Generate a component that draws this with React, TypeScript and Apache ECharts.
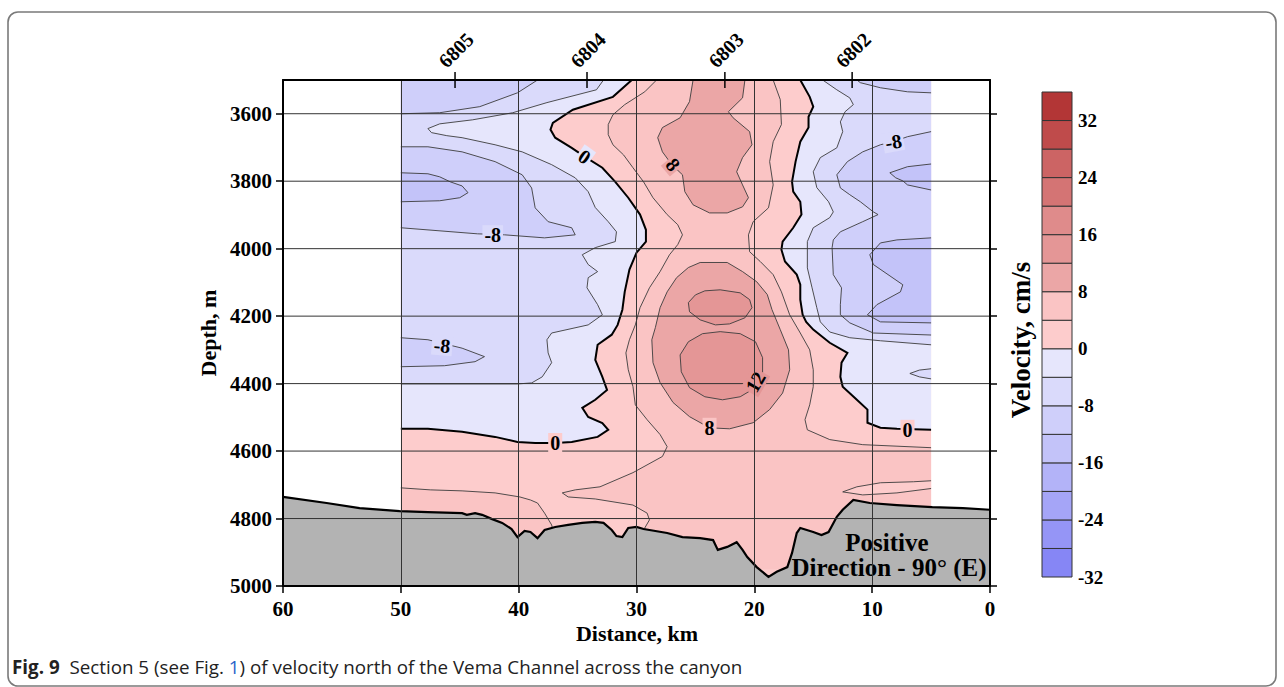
import React, { useEffect, useRef } from "react";
import * as echarts from "echarts";

const SERIF = '"Liberation Serif", "Times New Roman", serif';
const SANS = '"Open Sans", "Noto Sans", sans-serif';

// ---- axes / ticks ----
const depthTicks = [3600, 3800, 4000, 4200, 4400, 4600, 4800, 5000];
const stations = ["6805", "6804", "6803", "6802"];
const stationKm = [45.4, 34.2, 22.5, 11.7];

// ---- colour bands (lower bound of each 4 cm/s band) ----
const bandLevels = [-32, -28, -24, -20, -16, -12, -8, -4, 0, 4, 8, 12, 16, 20, 24, 28, 32];
const bandColors = [
  "#8686f5", "#9595f6", "#a5a5f7", "#b3b3f8", "#c3c3f9", "#cfcffa", "#dadafb", "#e6e6fc",
  "#fdcccc", "#fac4c4", "#eba6a6", "#e49696", "#df8b8b", "#d47474", "#cc6464", "#bf4b4b", "#b33636",
];

// ---- contour lines, [distance km, depth m] ----
const dataArea = [[50, 3500], [5, 3500], [5, 5000], [50, 5000]];

const zeroLeft = [[30.4,3500],[32.0,3550],[35.4,3588],[37.1,3627],[37.3,3647],[36.9,3671],[35.5,3701],[34.4,3727],[32.9,3760],[31.8,3802],[30.7,3849],[29.7,3899],[29.2,3944],[29.2,3979],[30.0,4012],[30.6,4062],[31.0,4128],[31.2,4181],[31.6,4226],[32.1,4255],[33.3,4285],[33.5,4330],[32.9,4380],[32.5,4419],[33.5,4448],[34.6,4472],[34.1,4499],[32.9,4517],[32.4,4537],[33.3,4558],[35.5,4573],[36.9,4576],[38.6,4576],[40.1,4573],[42.0,4558],[44.8,4543],[47.7,4534],[50,4534]];
const zeroRight = [[16.1,3500],[15.3,3550],[15.0,3579],[15.4,3609],[15.4,3641],[16.1,3683],[16.5,3742],[16.8,3802],[16.7,3831],[16.1,3861],[16.0,3899],[16.7,3938],[17.6,3979],[17.7,4003],[17.4,4038],[16.4,4077],[16.1,4107],[16.1,4151],[15.9,4196],[15.6,4217],[15.0,4240],[13.6,4279],[12.1,4309],[12.6,4338],[12.7,4380],[12.5,4409],[11.3,4448],[10.4,4477],[10.4,4516],[9.3,4531],[7.9,4534],[5,4537]];

const minus4Left = [[32.8,3500],[33.4,3529],[37.6,3567],[40.5,3597],[43.9,3618],[46.7,3630],[47.7,3644],[47.4,3656],[46.1,3665],[44.8,3671],[42.0,3692],[39.7,3713],[37.2,3751],[35.2,3790],[34.1,3831],[33.5,3878],[32.4,3920],[31.7,3950],[31.8,3979],[33.5,3997],[34.6,4018],[34.1,4047],[33.3,4068],[34.1,4086],[34.2,4116],[33.3,4166],[32.9,4196],[34.1,4226],[37.2,4250],[37.6,4270],[37.5,4309],[37.2,4338],[38.0,4380],[38.9,4398],[40.1,4401],[50,4401]];
const minus4Right = [[14.2,3500],[13.0,3529],[11.9,3553],[11.6,3573],[12.3,3594],[12.7,3624],[12.5,3653],[13.0,3701],[14.4,3730],[15.0,3772],[14.7,3819],[13.7,3861],[13.3,3891],[13.6,3908],[15.0,3938],[15.5,3979],[15.5,4057],[15.1,4116],[14.7,4175],[14.4,4217],[13.6,4247],[11.9,4264],[9.3,4273],[5,4285]];
const minus4Lens = [[5,4356],[6.0,4360],[6.8,4370],[6.0,4380],[5,4386]];

const minus8TopLeft = [[38.4,3500],[40.1,3538],[43.3,3579],[46.7,3597],[50,3600]];
const minus8LeftMid = [[50,3698],[47.7,3698],[44.8,3713],[42.0,3742],[39.7,3781],[38.9,3820],[38.6,3879],[37.5,3920],[35.5,3938],[35.2,3959],[37.8,3968],[41.2,3959],[43.5,3956],[50,3938]];
const minus8LeftLow = [[50,4264],[47.7,4270],[44.8,4295],[42.9,4320],[43.7,4335],[46.3,4347],[50,4350]];
const minus8TopRight = [[11.3,3500],[11.0,3508],[9.3,3523],[7.0,3535],[5,3538]];
const minus8Right = [[5,3653],[7.0,3668],[8.2,3683],[9.3,3692],[10.8,3713],[12.1,3742],[13.0,3781],[12.7,3820],[11.9,3840],[11.0,3861],[9.9,3891],[9.5,3899],[10.8,3920],[12.7,3950],[13.3,3974],[13.4,3997],[13.3,4077],[12.6,4116],[12.7,4166],[12.7,4196],[11.9,4220],[9.9,4250],[5,4256]];

const minus12Left = [[50,3775],[47.7,3778],[46.7,3787],[45.8,3802],[44.8,3814],[44.3,3834],[45.0,3849],[46.7,3858],[50,3861]];
const minus12RightA = [[5,3749],[7.0,3757],[8.5,3775],[8.0,3790],[7.4,3799],[7.0,3811],[5,3826]];
const minus12RightB = [[5,3968],[7.9,3974],[9.3,3983],[10.2,4018],[9.9,4047],[7.4,4107],[7.6,4128],[9.6,4166],[10.4,4196],[9.3,4217],[5,4220]];

const plus4Left = [[28.3,3500],[29.3,3535],[31.0,3573],[32.0,3603],[32.4,3632],[32.4,3662],[32.0,3692],[31.1,3722],[30.3,3760],[29.4,3802],[28.6,3849],[27.4,3899],[26.5,3929],[26.1,3959],[26.5,3988],[27.2,4018],[28.0,4068],[28.9,4116],[29.7,4175],[30.1,4226],[30.6,4270],[30.9,4309],[30.7,4359],[30.3,4409],[30.1,4463],[29.1,4507],[28.0,4551],[27.4,4587],[27.8,4616],[30.3,4664],[33.1,4706],[35.2,4715],[36.3,4724],[35.8,4736],[33.5,4742],[30.3,4760],[29.1,4784],[28.9,4804],[29.3,4828],[29.5,4950]];
const plus4Right = [[18.4,3500],[17.8,3558],[17.7,3632],[18.4,3683],[18.7,3742],[18.4,3811],[18.8,3879],[20.1,3920],[20.5,3959],[20.4,4009],[19.5,4038],[18.4,4077],[17.7,4128],[17.0,4196],[16.1,4250],[15.3,4300],[15.0,4359],[15.0,4409],[15.3,4463],[15.7,4507],[15.5,4537],[13.6,4566],[10.8,4581],[5,4590]];
const plus4BottomLeft = [[50,4709],[47.5,4715],[44.8,4718],[42.0,4724],[39.9,4736],[39.0,4745],[38.4,4754],[37.8,4784],[37.2,4819],[36.8,4880]];
const plus4LensRight = [[5,4688],[6.5,4691],[9.3,4694],[11.3,4706],[12.5,4721],[10.8,4730],[7.9,4724],[5,4711]];

const plus8Core = [[25.2,3500],[25.5,3564],[26.3,3612],[27.8,3641],[28.2,3671],[27.8,3713],[27.0,3751],[26.1,3781],[25.9,3831],[25.2,3870],[23.8,3894],[22.3,3894],[21.0,3876],[20.5,3849],[21.0,3811],[21.5,3772],[21.0,3730],[20.2,3692],[20.4,3653],[21.8,3612],[22.2,3594],[21.0,3553],[20.8,3500]];
const plus8Blob = [[24.6,4041],[22.3,4041],[21.0,4068],[19.8,4098],[18.9,4136],[18.5,4181],[17.8,4240],[17.1,4300],[17.0,4359],[17.6,4428],[18.7,4477],[20.1,4516],[22.1,4534],[23.8,4531],[25.5,4498],[26.9,4456],[28.0,4397],[28.6,4338],[28.7,4270],[28.4,4234],[28.0,4175],[27.4,4128],[26.6,4086],[25.6,4056]];
const plus12Upper = [[24.2,4125],[22.9,4122],[21.2,4131],[20.4,4151],[20.2,4175],[20.8,4205],[22.1,4223],[23.3,4226],[24.6,4211],[25.5,4187],[25.6,4160],[25.0,4137]];
const plus12Lower = [[22.9,4246],[21.2,4252],[19.9,4276],[19.3,4323],[19.3,4374],[19.9,4412],[21.2,4439],[22.7,4448],[24.2,4439],[25.5,4412],[26.2,4365],[26.3,4315],[25.6,4276],[24.4,4252]];

const seabed = [[60,4736],[56.3,4754],[53.5,4769],[50.1,4778],[47.7,4781],[44.8,4784],[44.4,4789],[43.7,4784],[43.1,4789],[42.3,4801],[41.4,4813],[40.6,4831],[40.1,4855],[39.5,4837],[39.0,4840],[38.4,4858],[37.8,4834],[36.9,4825],[35.8,4819],[34.6,4813],[33.5,4810],[32.8,4813],[32.1,4834],[31.7,4852],[31.2,4855],[30.7,4828],[30.0,4825],[29.4,4831],[28.9,4834],[27.4,4843],[26.1,4855],[24.6,4858],[23.5,4864],[23.1,4893],[22.3,4884],[21.5,4870],[21.0,4893],[20.6,4914],[19.8,4944],[18.8,4973],[18.1,4958],[17.2,4944],[16.8,4902],[16.4,4843],[16.1,4828],[15.0,4840],[14.3,4849],[13.7,4840],[13.0,4795],[12.5,4774],[11.6,4745],[10.2,4754],[7.9,4760],[4.9,4766],[2.3,4769],[0,4774]];

// contour labels
const contourLabelPos = [[34.4,3727],[26.9,3751],[42.2,3960],[46.5,4287],[36.9,4576],[19.9,4395],[23.8,4531],[8.2,3683],[7.0,4537]];
const contourLabelText = ["0", "8", "-8", "-8", "0", "12", "8", "-8", "0"];

export default function App() {
  const ref = useRef<HTMLDivElement>(null);

  useEffect(() => {
    const chart = echarts.init(ref.current!, null, { renderer: "svg" });
    const colorOf = (lvl: number) => bandColors[bandLevels.indexOf(lvl)];
    const C = (pts: number[][]) => ({ pts, line: true });
    const E = (pts: number[][]) => ({ pts, line: false });
    const ring = (pts: number[][]) => C([...pts, pts[0]]);
    const rev = (pts: number[][]) => pts.slice().reverse();

    const regions: any[] = [
      { fill: colorOf(0), parts: [E(dataArea)] },
      { fill: colorOf(4), parts: [C(plus4Left), E([[5, 4950]]), C(rev(plus4Right))] },
      { fill: colorOf(4), parts: [C(plus4BottomLeft), E([[36.8, 4950], [50, 4950]])] },
      { fill: colorOf(0), parts: [C(plus4LensRight)] },
      { fill: colorOf(8), parts: [C(plus8Core)] },
      { fill: colorOf(8), parts: [ring(plus8Blob)] },
      { fill: colorOf(12), parts: [ring(plus12Upper)] },
      { fill: colorOf(12), parts: [ring(plus12Lower)] },
      { fill: colorOf(-4), thick: true, parts: [C(zeroLeft), E([[50, 3500]])] },
      { fill: colorOf(-4), thick: true, parts: [C(zeroRight), E([[5, 3500]])] },
      { fill: colorOf(-8), parts: [C(minus4Left), E([[50, 3500]])] },
      { fill: colorOf(-8), parts: [C(minus4Right), E([[5, 3500]])] },
      { fill: colorOf(-8), parts: [C(minus4Lens)] },
      { fill: colorOf(-12), parts: [C(minus8TopLeft), E([[50, 3500]])] },
      { fill: colorOf(-12), parts: [C(minus8LeftMid)] },
      { fill: colorOf(-12), parts: [C(minus8LeftLow)] },
      { fill: colorOf(-12), parts: [C(minus8TopRight), E([[5, 3500]])] },
      { fill: colorOf(-12), parts: [C(minus8Right)] },
      { fill: colorOf(-16), parts: [C(minus12Left)] },
      { fill: colorOf(-16), parts: [C(minus12RightA)] },
      { fill: colorOf(-16), parts: [C(minus12RightB)] },
      { fill: "#b3b3b3", ground: true, parts: [C(seabed), E([[0, 5000], [60, 5000]])] },
    ];

    const labelAngle = [-35, -50, 0, -5, 0, 60, 0, 10, 0];
    const labelBg = [colorOf(-4), colorOf(8), colorOf(-8), colorOf(-8), colorOf(0), colorOf(12), colorOf(4), colorOf(-8), colorOf(0)];

    const axisFont = { fontFamily: SERIF, fontWeight: "bold" as const, fontSize: 21, color: "#000" };
    const txt = (size: number, family = SERIF, weight = "bold") => ({
      fontSize: size, fontFamily: family, fontWeight: weight, font: `${weight} ${size}px ${family}`,
    });

    const baseGraphic: any[] = [
      {
        type: "rect", z: 0, silent: true,
        shape: { x: 8, y: 12, width: 1268, height: 674, r: 10 },
        style: { fill: "none", stroke: "#7a7a7a", lineWidth: 1.6 },
      },
      {
        type: "text", x: 208, y: 333, rotation: Math.PI / 2, z: 20,
        style: { text: "Depth, m", ...txt(22), fill: "#000", align: "center", verticalAlign: "middle" },
      },
      {
        type: "text", x: 637, y: 633, z: 20,
        style: { text: "Distance, km", ...txt(22), fill: "#000", align: "center", verticalAlign: "middle" },
      },
      {
        type: "text", x: 1021, y: 340, rotation: Math.PI / 2, z: 20,
        style: { text: "Velocity, cm/s", ...txt(27), fill: "#000", align: "center", verticalAlign: "middle" },
      },
      {
        type: "text", x: 887, y: 542, z: 5,
        style: { text: "Positive", ...txt(25), fill: "#000", align: "center", verticalAlign: "middle" },
      },
      {
        type: "text", x: 889, y: 567, z: 5,
        style: { text: "Direction - 90° (E)", ...txt(25), fill: "#000", align: "center", verticalAlign: "middle" },
      },
      {
        type: "text", x: 12, y: 667, z: 20,
        style: {
          text: "{b|Fig. 9}  {n|Section 5 (see Fig. }{l|1}{n|) of velocity north of the Vema Channel across the canyon}",
          ...txt(18.8, SANS, "normal"), fill: "#222", align: "left", verticalAlign: "middle",
          rich: {
            b: { ...txt(18.8, SANS, "bold"), fill: "#222" },
            n: { ...txt(18.8, SANS, "normal"), fill: "#222" },
            l: { ...txt(18.8, SANS, "normal"), fill: "#2a62c9" },
          },
        },
      },
    ];

    const option: any = {
      animation: false,
      backgroundColor: "#fff",
      grid: [
        { left: 283, top: 80, width: 707, height: 506 },
        { left: 1042, top: 92, width: 30, height: 485 },
      ],
      xAxis: [
        {
          gridIndex: 0, type: "value", min: 0, max: 60, interval: 10, inverse: true, position: "bottom", z: 10,
          axisLine: { show: true, onZero: false, lineStyle: { color: "#000", width: 2 } },
          axisTick: { show: true, length: 7, lineStyle: { color: "#000", width: 1.5 } },
          axisLabel: { ...axisFont, margin: 12, formatter: (v: number) => String(v) },
          splitLine: { show: true, lineStyle: { color: "#333", width: 1 } },
        },
        {
          gridIndex: 0, type: "value", min: 0, max: 60, inverse: true, position: "top", z: 10,
          axisLine: { show: true, onZero: false, lineStyle: { color: "#000", width: 2 } },
          axisTick: { show: false }, axisLabel: { show: false }, splitLine: { show: false },
        },
        { gridIndex: 1, type: "value", min: 0, max: 1, show: false },
      ],
      yAxis: [
        {
          gridIndex: 0, type: "value", min: 3500, max: 5000, inverse: true, position: "left", z: 10,
          axisLine: { show: true, onZero: false, lineStyle: { color: "#000", width: 2 } },
          axisTick: { show: true, length: 7, customValues: depthTicks, lineStyle: { color: "#000", width: 1.5 } },
          axisLabel: { ...axisFont, margin: 11, customValues: depthTicks, formatter: (v: number) => String(v) },
          splitLine: { show: false },
        },
        {
          gridIndex: 0, type: "value", min: 3500, max: 5000, inverse: true, position: "right", z: 10,
          axisLine: { show: true, onZero: false, lineStyle: { color: "#000", width: 2 } },
          axisTick: { show: true, length: 7, customValues: depthTicks, lineStyle: { color: "#000", width: 1.5 } },
          axisLabel: { show: false },
          splitLine: { show: false },
        },
        {
          gridIndex: 1, type: "value", min: -32, max: 36, interval: 8, position: "right",
          axisLine: { show: false }, axisTick: { show: false }, splitLine: { show: false },
          axisLabel: {
            fontFamily: SERIF, fontWeight: "bold", fontSize: 19, color: "#000", margin: 6,
            formatter: (v: number) => (v > 32 ? "" : String(v)),
          },
        },
      ],
      series: [
        {
          type: "custom", name: "contours", coordinateSystem: "cartesian2d", xAxisIndex: 0, yAxisIndex: 0,
          z: 2, silent: true, clip: false,
          data: regions.map((_, i) => [i]),
          renderItem: (params: any, api: any) => {
            const r = regions[params.dataIndex];
            const px = (pts: number[][]) => pts.map((p) => api.coord(p));
            const all: number[][] = [];
            r.parts.forEach((p: any) => all.push(...p.pts));
            const children: any[] = [
              { type: "polygon", shape: { points: px(all) }, style: { fill: r.fill, stroke: "none" } },
            ];
            r.parts.forEach((p: any) => {
              if (p.line) {
                children.push({
                  type: "polyline",
                  shape: { points: px(p.pts) },
                  style: {
                    fill: "none",
                    stroke: r.thick || r.ground ? "#000" : "#3c3c3c",
                    lineWidth: r.ground ? 2.2 : r.thick ? 2 : 0.9,
                  },
                });
              }
            });
            return { type: "group", children };
          },
        },
        {
          type: "custom", name: "gridlines", coordinateSystem: "cartesian2d", xAxisIndex: 0, yAxisIndex: 0,
          z: 5, silent: true, clip: false,
          data: depthTicks.slice(0, -1).map((d) => [0, d]),
          renderItem: (params: any, api: any) => {
            const d = api.value(1);
            const a = api.coord([60, d]);
            const b = api.coord([0, d]);
            return { type: "line", shape: { x1: a[0], y1: a[1], x2: b[0], y2: b[1] }, style: { stroke: "#333", lineWidth: 1 } };
          },
        },
        {
          type: "custom", name: "station ticks", coordinateSystem: "cartesian2d", xAxisIndex: 0, yAxisIndex: 0,
          z: 11, silent: true, clip: false,
          data: stationKm.map((k) => [k, 3500]),
          renderItem: (params: any, api: any) => {
            const p = api.coord([api.value(0), api.value(1)]);
            return { type: "line", shape: { x1: p[0], y1: p[1] - 8, x2: p[0], y2: p[1] + 8 }, style: { stroke: "#000", lineWidth: 1.5 } };
          },
        },
        {
          type: "custom", name: "colorbar", coordinateSystem: "cartesian2d", xAxisIndex: 2, yAxisIndex: 2,
          silent: true, clip: false,
          data: bandLevels.map((l) => [0, l]),
          renderItem: (params: any, api: any) => {
            const lvl = api.value(1);
            const a = api.coord([0, lvl]);
            const b = api.coord([1, lvl + 4]);
            return {
              type: "rect",
              shape: { x: a[0], y: b[1], width: b[0] - a[0], height: a[1] - b[1] },
              style: { fill: bandColors[params.dataIndex], stroke: "#333", lineWidth: 1 },
            };
          },
        },
      ],
      graphic: baseGraphic,
    };

    chart.setOption(option);

    // labels placed through the chart's own scales; then the whole option is set afresh
    const toPx = (p: number[]) => chart.convertToPixel({ xAxisIndex: 0, yAxisIndex: 0 }, p) as number[];
    const contourLabelGraphics = contourLabelPos.map((p, i) => {
      const q = toPx(p);
      return {
        type: "text", x: q[0], y: q[1], rotation: (labelAngle[i] * Math.PI) / 180, z: 6,
        style: {
          text: contourLabelText[i], ...txt(20), fill: "#000", align: "center", verticalAlign: "middle",
          backgroundColor: labelBg[i], padding: [0, 2],
        },
      };
    });
    const stationGraphics = stationKm.map((k, i) => {
      const q = toPx([k, 3500]);
      return {
        type: "text", x: q[0] + 1, y: q[1] - 30, rotation: Math.PI / 4, z: 20,
        style: { text: stations[i], ...txt(20), fill: "#000", align: "center", verticalAlign: "middle" },
      };
    });
    chart.setOption({ ...option, graphic: [...baseGraphic, ...contourLabelGraphics, ...stationGraphics] }, true);

    return () => chart.dispose();
  }, []);

  return (
    <div
      ref={ref}
      style={{ position: "fixed", left: 0, top: 0, width: 1284, height: 687, background: "#fff" }}
    />
  );
}
